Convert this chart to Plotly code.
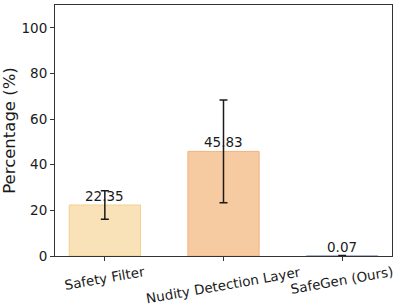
import plotly.graph_objects as go

categories = ["Safety Filter", "Nudity Detection Layer", "SafeGen (Ours)"]
values = [22.35, 45.83, 0.07]
errors = [6.2, 22.5, 0.1]
fill_colors = ["#F9E2B8", "#F7CBA1", "#C5CEE0"]
edge_colors = ["#F5CF8E", "#F2B27E", "#9AA8C8"]

xs = list(range(len(categories)))

fig = go.Figure()
fig.add_trace(go.Bar(
    x=xs, y=values, width=0.6,
    marker=dict(color=fill_colors, line=dict(color=edge_colors, width=1)),
    error_y=dict(type="data", array=errors, visible=True, color="#1a1a1a", thickness=1.5, width=4),
    showlegend=False,
))

font = "DejaVu Sans"
for x, v, e in zip(xs, values, errors):
    fig.add_annotation(x=x, y=v, xref="x", yref="y", text=f"{v:.2f}", showarrow=False,
                       yanchor="bottom", yshift=-1, font=dict(family=font, size=13.5, color="#1a1a1a"))
for x, c in zip(xs, categories):
    fig.add_annotation(x=x, y=0, xref="x", yref="paper", text=c, showarrow=False,
                       textangle=-10, xanchor="center", yanchor="top", yshift=-5,
                       font=dict(family=font, size=13.5, color="#1a1a1a"))

fig.update_layout(
    width=399, height=307,
    margin=dict(l=55, r=7, t=5, b=51),
    plot_bgcolor="white", paper_bgcolor="white",
    font=dict(family=font, size=13.5, color="#1a1a1a"),
    xaxis=dict(range=[-0.42, 2.42], tickvals=xs, ticktext=["", "", ""], showgrid=False,
               zeroline=False, showline=True, linecolor="#333", linewidth=1, mirror=True,
               ticks="outside", ticklen=4, tickcolor="#333"),
    yaxis=dict(range=[0, 110], tickvals=[0, 20, 40, 60, 80, 100], showgrid=False,
               zeroline=False, showline=True, linecolor="#333", linewidth=1, mirror=True,
               ticks="outside", ticklen=4, tickcolor="#333",
               title=dict(text="Percentage (%)", font=dict(family=font, size=16.5), standoff=5),
               tickfont=dict(family=font, size=13.5)),
)

fig.write_html("out.html", config={"displayModeBar": False},
               post_script="document.body.style.margin='0';")
